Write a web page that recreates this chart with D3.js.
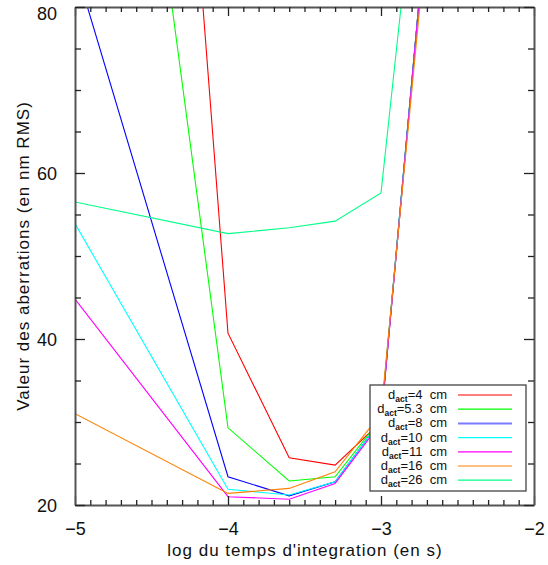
<!DOCTYPE html>
<html><head><meta charset="utf-8">
<script src="https://cdn.jsdelivr.net/npm/d3@7"></script>
<style>body{margin:0;background:#fff}svg{display:block}text{font-family:"Liberation Sans",Arial,sans-serif}</style>
</head><body>
<svg id="c" width="548" height="565"></svg>
<script>
const xs = [-5, -4, -3.6, -3.3, -3, -2.7];
const labels = ["4", "5.3", "8", "10", "11", "16", "26"];
const colors = ["#ff0000", "#00ff00", "#0000ff", "#00ffff", "#ff00ff", "#ff8000", "#00ff88"];
const d4  = [281, 40.7, 25.7, 24.8, 30.0, 91];
const d53 = [168, 29.3, 22.9, 23.4, 30.4, 91];
const d8  = [85, 23.4, 21.1, 22.8, 30.2, 91];
const d10 = [53.9, 21.9, 21.2, 22.8, 30.2, 91];
const d11 = [44.8, 21.0, 20.7, 22.6, 29.9, 91];
const d16 = [31.0, 21.4, 22.0, 24.0, 31.0, 89];
const d26 = [56.5, 52.7, 53.4, 54.2, 57.6, 109];
const series = [d4, d53, d8, d10, d11, d16, d26];
const xMajor = [-5, -4, -3, -2];
const yMajor = [20, 40, 60, 80];

const svg = d3.select("#c");
const L = 75, R = 534, T = 7, B = 505;
const x = d3.scaleLinear().domain([-5, -2]).range([L, R]);
const y = d3.scaleLinear().domain([20, 80]).range([B, T]);

svg.append("clipPath").attr("id", "clip").append("rect")
  .attr("x", L).attr("y", T).attr("width", R - L).attr("height", B - T);

const line = d3.line().x((d, i) => x(xs[i])).y(d => y(d));
const g = svg.append("g").attr("clip-path", "url(#clip)");
series.forEach((s, k) => {
  g.append("path").attr("d", line(s)).attr("fill", "none")
    .attr("stroke", colors[k]).attr("stroke-width", 1.1);
});

const xMinor = d3.range(-50, -19).map(v => v / 10).filter(v => !xMajor.some(m => Math.abs(m - v) < 1e-9));
const yMinor = d3.range(20, 81, 5).filter(v => !yMajor.includes(v));
const fmt = d => (d < 0 ? "\u2212" + Math.abs(d) : "" + d);

function styleAxis(sel) {
  sel.select(".domain").attr("stroke", "#555").attr("stroke-width", 2);
  sel.selectAll(".tick line").attr("stroke", "#222").attr("stroke-width", 1.3);
  sel.selectAll("text").attr("font-size", 18).attr("fill", "#111")
     .style("font-family", "'Liberation Sans', Arial, sans-serif");
}
function minor(sel) {
  sel.select(".domain").remove();
  sel.selectAll("line").attr("stroke", "#222").attr("stroke-width", 1.3);
}
// bottom
const bx = svg.append("g").attr("transform", `translate(0,${B})`)
  .call(d3.axisBottom(x).tickValues(xMajor).tickFormat(fmt).tickSizeInner(-9).tickSizeOuter(0).tickPadding(17));
styleAxis(bx);
svg.append("g").attr("transform", `translate(0,${B})`)
  .call(d3.axisBottom(x).tickValues(xMinor).tickFormat("").tickSizeInner(-5).tickSizeOuter(0)).call(minor);
// top
const tx = svg.append("g").attr("transform", `translate(0,${T})`)
  .call(d3.axisTop(x).tickValues(xMajor).tickFormat("").tickSizeInner(-9).tickSizeOuter(0));
styleAxis(tx);
svg.append("g").attr("transform", `translate(0,${T})`)
  .call(d3.axisTop(x).tickValues(xMinor).tickFormat("").tickSizeInner(-5).tickSizeOuter(0)).call(minor);
// left
const ly = svg.append("g").attr("transform", `translate(${L},0)`)
  .call(d3.axisLeft(y).tickValues(yMajor).tickFormat(fmt).tickSizeInner(-10).tickSizeOuter(0).tickPadding(18));
styleAxis(ly);
ly.selectAll("text").attr("dy", d => d === 80 ? "0.72em" : "0.36em");
svg.append("g").attr("transform", `translate(${L},0)`)
  .call(d3.axisLeft(y).tickValues(yMinor).tickFormat("").tickSizeInner(-6).tickSizeOuter(0)).call(minor);
// right
const ry = svg.append("g").attr("transform", `translate(${R},0)`)
  .call(d3.axisRight(y).tickValues(yMajor).tickFormat("").tickSizeInner(-10).tickSizeOuter(0));
styleAxis(ry);
svg.append("g").attr("transform", `translate(${R},0)`)
  .call(d3.axisRight(y).tickValues(yMinor).tickFormat("").tickSizeInner(-6).tickSizeOuter(0)).call(minor);

// axis titles
svg.append("text").attr("x", 305).attr("y", 556).attr("text-anchor", "middle")
  .attr("font-size", 17).attr("letter-spacing", 1).attr("fill", "#111")
  .text("log du temps d'integration (en s)");
svg.append("text").attr("transform", "translate(29,256) rotate(-90)").attr("text-anchor", "middle")
  .attr("font-size", 17).attr("letter-spacing", 1).attr("fill", "#111")
  .text("Valeur des aberrations (en nm RMS)");

// legend
const lg = svg.append("g");
lg.append("rect").attr("x", 370).attr("y", 385).attr("width", 156).attr("height", 106)
  .attr("fill", "#fff").attr("stroke", "#444").attr("stroke-width", 1.3);
labels.forEach((lab, k) => {
  const yy = 395 + k * 14.2;
  const t = lg.append("text").attr("x", 447).attr("y", yy + 4).attr("text-anchor", "end")
    .attr("font-size", 13).attr("fill", "#111");
  t.append("tspan").text("d");
  t.append("tspan").attr("dy", 3).attr("font-size", 8.5).attr("font-weight", "bold").text("act");
  t.append("tspan").attr("dy", -3).text("=" + lab + "\u00a0\u00a0cm");
  lg.append("line").attr("x1", 458).attr("x2", 512).attr("y1", yy).attr("y2", yy)
    .attr("stroke", k === 2 ? "#7b7bff" : colors[k]).attr("stroke-width", k === 2 ? 2 : 1.2);
});
</script>
</body></html>
